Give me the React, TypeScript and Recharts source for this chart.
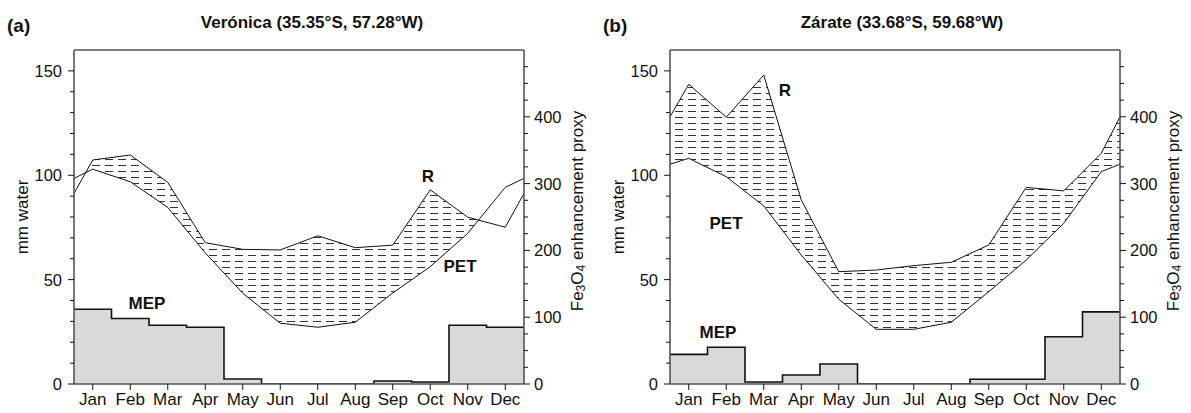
import { ComposedChart, Area, Line, XAxis, YAxis } from "recharts";

const MONTHS = ["Jan", "Feb", "Mar", "Apr", "May", "Jun", "Jul", "Aug", "Sep", "Oct", "Nov", "Dec"];

// Verónica (a)
const VERONICA_R = [107.3, 109.7, 96.6, 67.7, 64.5, 64.2, 71, 65.3, 66.5, 93, 79.9, 75.1];
const VERONICA_PET = [102.9, 96.9, 84.6, 62.8, 43.5, 29.1, 27.2, 29.6, 43.6, 56.2, 72.2, 94.2];
const VERONICA_EDGE_R = 91.3;
const VERONICA_EDGE_PET = 98.5;
const VERONICA_MEP = [112, 98, 88, 85, 7.5, 0, 0, 0, 4.5, 3, 88, 85];

// Zárate (b)
const ZARATE_R = [143.6, 127.8, 148, 88.2, 53.8, 54.6, 56.7, 58.3, 66.6, 94.2, 92.5, 110.5];
const ZARATE_PET = [108.1, 99.3, 85.3, 61.8, 40.6, 26.2, 26.2, 29.6, 44.2, 59.4, 77, 101.7];
const ZARATE_EDGE_R = 128;
const ZARATE_EDGE_PET = 105.3;
const ZARATE_MEP = [44.4, 55, 3, 13.5, 30, 0, 0, 0, 7, 7, 70.8, 108];

const LEFT_TICKS = [0, 10, 20, 30, 40, 50, 60, 70, 80, 90, 100, 110, 120, 130, 140, 150];
const RIGHT_TICKS = Array.from({ length: 20 }, (_, i) => i * 25);
const MONTH_TICKS = MONTHS.map((_, i) => i + 0.5);

const FONT = "'Liberation Sans', Arial, Helvetica, sans-serif";
const W = 595;
const H = 413;
const B_LEFT = 596;
const AXIS = "#555";

function YTick(props: any) {
  const { x, y, payload, side, every } = props;
  const v = payload.value;
  const major = v % every === 0;
  // tickSize 6 + tickMargin 7
  const ax = side === "left" ? x + 13 : x - 13;
  const len = major ? 6 : 4;
  const dir = side === "left" ? -1 : 1;
  return (
    <g>
      <line x1={ax} x2={ax + dir * len} y1={y} y2={y} stroke="#111" strokeWidth={1} />
      {major && (
        <text
          x={side === "left" ? ax - 12 : ax + 10}
          y={y}
          dy="0.36em"
          textAnchor={side === "left" ? "end" : "start"}
          fontSize={16.5}
          fontFamily={FONT}
          fill="#111"
        >
          {v}
        </text>
      )}
    </g>
  );
}

function Panel({
  id,
  r,
  pet,
  edgeR,
  edgePet,
  mep,
}: {
  id: string;
  r: number[];
  pet: number[];
  edgeR: number;
  edgePet: number;
  mep: number[];
}) {
  const lineRows = [
    { x: 0, r: edgeR, pet: edgePet },
    ...MONTHS.map((m, i) => ({ x: i + 0.5, r: r[i], pet: pet[i] })),
    { x: 12, r: edgeR, pet: edgePet },
  ];
  const mepRows = [
    ...MONTHS.map((m, i) => ({ x: i, mep: mep[i] })),
    { x: 12, mep: mep[mep.length - 1] },
  ];

  return (
    <ComposedChart
      width={W}
      height={H}
      margin={{ top: 40, right: 21, bottom: 4, left: 14 }}
      style={{ fontFamily: FONT }}
    >
      <defs>
        <pattern id={`hatch-${id}`} patternUnits="userSpaceOnUse" width={13} height={6}>
          <line x1={1} x2={9} y1={3.5} y2={3.5} stroke="#333" strokeWidth={1} />
        </pattern>
      </defs>

      <Area
        data={lineRows}
        dataKey="r"
        type="linear"
        stroke="none"
        fill={`url(#hatch-${id})`}
        fillOpacity={1}
        isAnimationActive={false}
        yAxisId="left"
        xAxisId="bottom"
      />
      <Area
        data={lineRows}
        dataKey="pet"
        type="linear"
        stroke="none"
        fill="#fff"
        fillOpacity={1}
        isAnimationActive={false}
        yAxisId="left"
        xAxisId="bottom"
      />
      <Area
        data={mepRows}
        dataKey="mep"
        type="stepAfter"
        stroke="#111"
        strokeWidth={1.6}
        fill="#d9d9d9"
        fillOpacity={1}
        isAnimationActive={false}
        yAxisId="right"
        xAxisId="top"
      />
      <Line
        data={lineRows}
        dataKey="r"
        type="linear"
        stroke="#111"
        strokeWidth={1}
        dot={false}
        isAnimationActive={false}
        yAxisId="left"
        xAxisId="bottom"
      />
      <Line
        data={lineRows}
        dataKey="pet"
        type="linear"
        stroke="#111"
        strokeWidth={1}
        dot={false}
        isAnimationActive={false}
        yAxisId="left"
        xAxisId="bottom"
      />

      <XAxis
        xAxisId="bottom"
        dataKey="x"
        type="number"
        domain={[0, 12]}
        ticks={MONTH_TICKS}
        interval={0}
        tickFormatter={(v: number) => MONTHS[Math.round(v - 0.5)]}
        tickSize={6}
        tickMargin={3}
        height={25}
        axisLine={{ stroke: AXIS, strokeWidth: 1.6 }}
        tickLine={{ stroke: "#111" }}
        tick={{ fill: "#111", fontSize: 17, fontFamily: FONT }}
        allowDataOverflow
      />
      <XAxis
        xAxisId="top"
        orientation="top"
        dataKey="x"
        type="number"
        domain={[0, 12]}
        ticks={MONTH_TICKS}
        interval={0}
        tick={false}
        tickSize={7}
        height={10}
        axisLine={{ stroke: AXIS, strokeWidth: 1.6 }}
        tickLine={{ stroke: "#111" }}
        allowDataOverflow
      />
      <YAxis
        yAxisId="left"
        orientation="left"
        domain={[0, 160]}
        ticks={LEFT_TICKS}
        interval={0}
        width={60}
        tickSize={6}
        tickMargin={7}
        tickLine={false}
        axisLine={{ stroke: AXIS, strokeWidth: 1.6 }}
        tick={(p: any) => <YTick {...p} side="left" every={50} />}
        allowDataOverflow
      />
      <YAxis
        yAxisId="right"
        orientation="right"
        domain={[0, 500]}
        ticks={RIGHT_TICKS}
        interval={0}
        width={50}
        tickSize={6}
        tickMargin={7}
        tickLine={false}
        axisLine={{ stroke: AXIS, strokeWidth: 1.6 }}
        tick={(p: any) => <YTick {...p} side="right" every={100} />}
        allowDataOverflow
      />
    </ComposedChart>
  );
}

function PanelText({
  dx,
  tag,
  title,
  titleX,
  rPos,
  petPos,
  mepPos,
}: {
  dx: number;
  tag: string;
  title: string;
  titleX: number;
  rPos: [number, number];
  petPos: [number, number];
  mepPos: [number, number];
}) {
  const bold = { fontFamily: FONT, fontWeight: 700, fontSize: 17, fill: "#111" };
  return (
    <g transform={`translate(${dx},0)`}>
      <text x={7} y={32} fontFamily={FONT} fontWeight={700} fontSize={19} fill="#111">
        {tag}
      </text>
      <text x={titleX} y={28} textAnchor="middle" {...bold}>
        {title}
      </text>
      <text x={rPos[0]} y={rPos[1]} textAnchor="middle" {...bold}>
        R
      </text>
      <text x={petPos[0]} y={petPos[1]} textAnchor="middle" {...bold}>
        PET
      </text>
      <text x={mepPos[0]} y={mepPos[1]} textAnchor="middle" {...bold}>
        MEP
      </text>
      <text
        x={22}
        y={217}
        transform="rotate(-90, 22, 217)"
        textAnchor="middle"
        dominantBaseline="central"
        fontFamily={FONT}
        fontSize={17}
        fill="#111"
      >
        mm water
      </text>
      <text
        x={577}
        y={211}
        transform="rotate(-90, 577, 211)"
        textAnchor="middle"
        dominantBaseline="central"
        fontFamily={FONT}
        fontSize={17}
        fill="#111"
      >
        Fe
        <tspan fontSize={12} dy={4}>3</tspan>
        <tspan dy={-4}>O</tspan>
        <tspan fontSize={12} dy={4}>4</tspan>
        <tspan dy={-4}> enhancement proxy</tspan>
      </text>
    </g>
  );
}

export default function App() {
  return (
    <div style={{ position: "relative", width: 1191, height: 413, background: "#fff" }}>
      <style>{`body{margin:0;background:#fff}`}</style>
      <div style={{ position: "absolute", left: 0, top: 0 }}>
        <Panel
          id="a"
          r={VERONICA_R}
          pet={VERONICA_PET}
          edgeR={VERONICA_EDGE_R}
          edgePet={VERONICA_EDGE_PET}
          mep={VERONICA_MEP}
        />
      </div>
      <div style={{ position: "absolute", left: B_LEFT, top: 0 }}>
        <Panel
          id="b"
          r={ZARATE_R}
          pet={ZARATE_PET}
          edgeR={ZARATE_EDGE_R}
          edgePet={ZARATE_EDGE_PET}
          mep={ZARATE_MEP}
        />
      </div>
      <svg
        width={1191}
        height={413}
        style={{ position: "absolute", left: 0, top: 0, pointerEvents: "none" }}
      >
        <PanelText
          dx={0}
          tag="(a)"
          title="Verónica (35.35°S, 57.28°W)"
          titleX={312}
          rPos={[428, 182]}
          petPos={[460, 272]}
          mepPos={[147, 309]}
        />
        <PanelText
          dx={B_LEFT}
          tag="(b)"
          title="Zárate (33.68°S, 59.68°W)"
          titleX={306}
          rPos={[189, 96]}
          petPos={[130, 229]}
          mepPos={[122, 338]}
        />
      </svg>
    </div>
  );
}
